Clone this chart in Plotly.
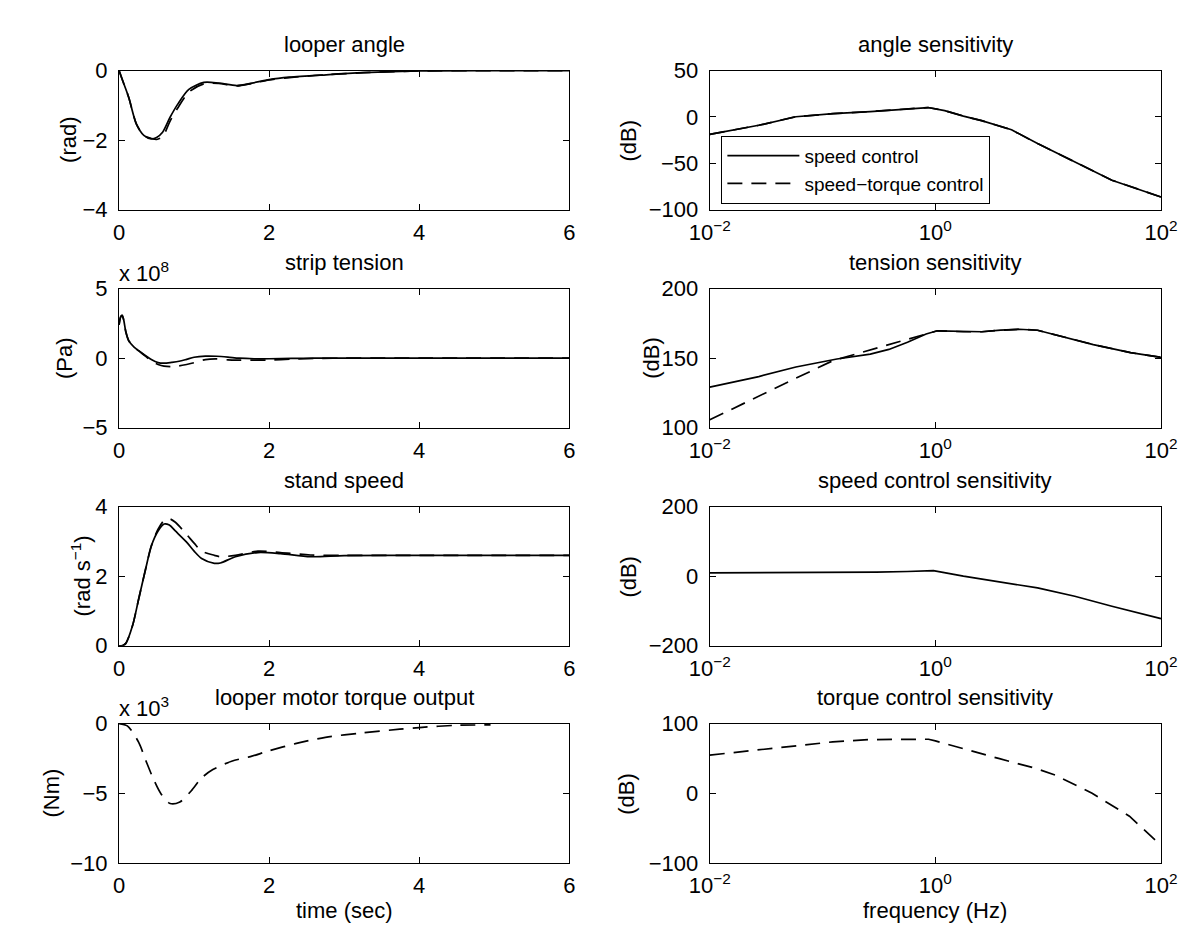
import plotly.graph_objects as go

# ---------------- data ----------------
# looper angle (rad)
angle_t = [0, 0.05, 0.13, 0.23, 0.33, 0.43, 0.5, 0.58, 0.68, 0.78, 0.93, 1.13, 1.33, 1.57, 1.77, 2.0, 2.27, 2.76, 3.26, 4.0, 5.0, 6.0]
angle_speed = [0, -0.3, -0.78, -1.53, -1.86, -1.96, -1.92, -1.77, -1.34, -0.97, -0.54, -0.34, -0.36, -0.43, -0.36, -0.26, -0.19, -0.12, -0.06, -0.01, 0, 0]
angle_torque = [0, -0.3, -0.78, -1.53, -1.86, -1.95, -1.98, -1.9, -1.45, -1.08, -0.62, -0.38, -0.37, -0.44, -0.37, -0.27, -0.2, -0.12, -0.06, -0.01, 0, 0]

# strip tension (x 1e8 Pa)
tension_t = [0, 0.02, 0.04, 0.06, 0.09, 0.13, 0.2, 0.26, 0.35, 0.43, 0.52, 0.6, 0.7, 0.8, 0.9, 1.0, 1.15, 1.3, 1.45, 1.6, 1.8, 2.0, 2.3, 2.6, 3.0, 4.0, 6.0]
tension_speed = [2.4, 2.95, 3.08, 2.8, 1.9, 1.25, 0.8, 0.54, 0.2, -0.1, -0.32, -0.36, -0.3, -0.22, -0.08, 0.07, 0.15, 0.14, 0.08, 0.0, -0.04, -0.04, -0.02, 0, 0, 0, 0]
tension_torque = [2.4, 2.95, 3.08, 2.8, 1.9, 1.25, 0.8, 0.54, 0.15, -0.2, -0.45, -0.57, -0.6, -0.55, -0.45, -0.32, -0.1, -0.05, -0.12, -0.14, -0.14, -0.13, -0.07, -0.02, 0, 0, 0]

# stand speed (rad/s)
speed_t = [0, 0.05, 0.09, 0.18, 0.26, 0.35, 0.43, 0.52, 0.6, 0.67, 0.75, 0.9, 1.0, 1.1, 1.27, 1.35, 1.55, 1.85, 2.15, 2.55, 3.0, 4.0, 6.0]
speed_speed = [0, 0.01, 0.07, 0.58, 1.33, 2.17, 2.87, 3.3, 3.5, 3.47, 3.3, 2.98, 2.72, 2.51, 2.37, 2.38, 2.56, 2.68, 2.65, 2.56, 2.59, 2.6, 2.6]
speed_torque = [0, 0.01, 0.07, 0.58, 1.33, 2.17, 2.87, 3.35, 3.6, 3.65, 3.55, 3.2, 2.95, 2.72, 2.6, 2.56, 2.6, 2.72, 2.68, 2.61, 2.6, 2.6, 2.6]

# looper motor torque output (x 1e3 Nm)
torque_t = [0, 0.11, 0.26, 0.36, 0.46, 0.56, 0.68, 0.81, 0.96, 1.1, 1.25, 1.5, 1.75, 2.0, 2.35, 2.75, 3.24, 3.74, 4.0, 4.49, 4.95]
torque_out = [0, -0.16, -1.33, -2.7, -4.0, -5.05, -5.74, -5.63, -4.84, -3.9, -3.3, -2.7, -2.37, -1.95, -1.44, -0.98, -0.67, -0.4, -0.28, -0.12, -0.09]

# angle sensitivity (dB)
asens_f = [0.01, 0.0272, 0.058, 0.124, 0.265, 0.566, 0.86, 1.21, 1.77, 2.57, 4.73, 8.05, 17.2, 36.7, 100]
asens_speed = [-18.8, -8.9, 0.3, 3.6, 5.9, 8.2, 10.2, 6.9, 1.0, -3.9, -13.8, -28.6, -48.4, -68.1, -86.2]
asens_torque = [-18.8, -8.9, 0.3, 3.6, 5.9, 8.2, 10.2, 6.9, 1.0, -3.9, -13.8, -28.6, -48.4, -68.1, -86.2]

# tension sensitivity (dB)
tsens_f_speed = [0.01, 0.0272, 0.058, 0.134, 0.265, 0.387, 0.566, 0.828, 1.04, 1.77, 2.58, 3.78, 5.51, 8.05, 11.8, 25.1, 53.7, 100]
tsens_speed = [129.2, 136.8, 143.7, 149.4, 152.9, 156.3, 161.4, 167.4, 169.7, 169, 169, 170.1, 170.8, 170.1, 166.7, 159.8, 154, 150.6]
tsens_f_torque = [0.01, 0.0272, 0.058, 0.124, 0.265, 0.566, 0.828, 1.04, 1.77, 2.58, 3.78, 5.51, 8.05, 11.8, 25.1, 53.7, 100]
tsens_torque = [105.7, 123, 135.6, 148.3, 155.9, 163.7, 167.4, 169.7, 169, 169, 170.1, 170.8, 170.1, 166.7, 159.8, 154, 150.6]

# speed control sensitivity (dB)
ssens_f = [0.01, 0.1, 0.3, 0.566, 0.96, 1.77, 3.78, 8.05, 17.2, 36.7, 100]
ssens = [9.6, 10.5, 11.5, 13.5, 16, 0, -16.3, -33.6, -57.7, -86.5, -122]

# torque control sensitivity (dB)
qsens_f = [0.01, 0.0269, 0.0575, 0.123, 0.263, 0.55, 0.87, 1.0, 1.73, 3.63, 7.76, 11.5, 24.5, 52.5, 100]
qsens = [54.8, 61.9, 68, 73.8, 77.1, 78, 77.6, 75.2, 64.3, 50, 35.7, 26.2, 0, -33, -74.8]

titles = ["looper angle", "angle sensitivity", "strip tension", "tension sensitivity",
          "stand speed", "speed control sensitivity", "looper motor torque output",
          "torque control sensitivity"]
ytitles = ["(rad)", "(dB)", "(Pa)", "(dB)", "(rad s<sup>−1</sup>)", "(dB)", "(Nm)", "(dB)"]
yranges = [[-4, 0], [-100, 50], [-5, 5], [100, 200], [0, 4], [-200, 200], [-10, 0], [-100, 100]]
yticks = [[-4, -2, 0], [-100, -50, 0, 50], [-5, 0, 5], [100, 150, 200], [0, 2, 4],
          [-200, 0, 200], [-10, -5, 0], [-100, 0, 100]]
time_ticks = [0, 2, 4, 6]
freq_ticks = [0.01, 1, 100]
freq_ticktext = ["10<sup>−2</sup>", "10<sup>0</sup>", "10<sup>2</sup>"]
exp_labels = {3: "x 10<sup>8</sup>", 7: "x 10<sup>3</sup>"}
legend_names = ["speed control", "speed−torque control"]

# ---------------- layout geometry ----------------
W, H = 1201, 934
col_px = [(93, 558), (703, 1169)]
row_px = [(52, 195), (276, 419), (500, 643), (723, 866)]
ytitle_x = [40, 619, 36, 643, 54, 619, 23, 617]
FONT = "Liberation Sans, Arial, Helvetica, sans-serif"
DASH = "15px,9px"
LW = 1.7

fig = go.Figure()


def ax(k):
    return "" if k == 1 else str(k)


def add(k, x, y, dash, name=None, legend=False, shape="linear"):
    fig.add_trace(go.Scatter(
        x=x, y=y, mode="lines", name=name, showlegend=legend,
        line=dict(color="black", width=LW, dash=dash, shape=shape,
                  smoothing=0.8 if shape == "spline" else None),
        xaxis="x" + ax(k), yaxis="y" + ax(k)))


add(1, angle_t, angle_speed, "solid", shape="spline")
add(1, angle_t, angle_torque, DASH, shape="spline")
add(2, asens_f, asens_speed, "solid", legend_names[0], True)
add(2, asens_f, asens_torque, DASH, legend_names[1], True)
add(3, tension_t, tension_speed, "solid", shape="spline")
add(3, tension_t, tension_torque, DASH, shape="spline")
add(4, tsens_f_speed, tsens_speed, "solid")
add(4, tsens_f_torque, tsens_torque, DASH)
add(5, speed_t, speed_speed, "solid", shape="spline")
add(5, speed_t, speed_torque, DASH, shape="spline")
add(6, ssens_f, ssens, "solid")
add(7, torque_t, torque_out, DASH, shape="spline")
add(8, qsens_f, qsens, DASH)

layout = dict(
    width=W, height=H,
    margin=dict(l=0, r=0, t=0, b=0),
    paper_bgcolor="white", plot_bgcolor="white",
    font=dict(family=FONT, size=22, color="black"),
    showlegend=True,
    legend=dict(x=715 / W, y=1 - 119 / H, xanchor="left", yanchor="top",
                bordercolor="black", borderwidth=1, bgcolor="white",
                font=dict(size=19), itemwidth=72, tracegroupgap=0),
)
annotations = []
common = dict(showline=True, linecolor="black", linewidth=1.2, mirror="ticks",
              ticks="inside", ticklen=6, tickcolor="black", tickwidth=1,
              showgrid=False, zeroline=False, fixedrange=True,
              tickfont=dict(size=22, family=FONT, color="black"))

for i in range(8):
    k = i + 1
    r, c = divmod(i, 2)
    x0, x1 = col_px[c]
    y0, y1 = row_px[r]
    xa = dict(common, domain=[x0 / W, x1 / W], anchor="y" + ax(k), ticklabelstandoff=3)
    if c == 0:
        xa.update(type="linear", range=[0, 6], tickvals=time_ticks)
    else:
        xa.update(type="log", range=[-2, 2], tickvals=freq_ticks, ticktext=freq_ticktext)
    ya = dict(common, domain=[1 - y1 / H, 1 - y0 / H], anchor="x" + ax(k),
              range=yranges[i], tickvals=yticks[i], ticklabelstandoff=6)
    layout["xaxis" + ax(k)] = xa
    layout["yaxis" + ax(k)] = ya
    annotations.append(dict(text=titles[i], x=(x0 + x1) / 2 / W, y=1 - (y0 - 27) / H,
                            xref="paper", yref="paper", showarrow=False,
                            xanchor="center", yanchor="middle", font=dict(size=22)))
    annotations.append(dict(text=ytitles[i], x=ytitle_x[i] / W, y=1 - (y0 + y1) / 2 / H,
                            xref="paper", yref="paper", showarrow=False, textangle=-90,
                            xanchor="center", yanchor="middle", font=dict(size=22)))
    if k in exp_labels:
        annotations.append(dict(text=exp_labels[k], x=(x0 - 2) / W, y=1 - (y0 - 1) / H,
                                xref="paper", yref="paper", showarrow=False,
                                xanchor="left", yanchor="bottom", font=dict(size=22)))

annotations.append(dict(text="time (sec)", x=(col_px[0][0] + col_px[0][1]) / 2 / W, y=1 - 915 / H,
                        xref="paper", yref="paper", showarrow=False,
                        xanchor="center", yanchor="middle", font=dict(size=22)))
annotations.append(dict(text="frequency (Hz)", x=(col_px[1][0] + col_px[1][1]) / 2 / W, y=1 - 915 / H,
                        xref="paper", yref="paper", showarrow=False,
                        xanchor="center", yanchor="middle", font=dict(size=22)))
layout["annotations"] = annotations

fig.update_layout(**layout)
fig.write_html("out.html")
